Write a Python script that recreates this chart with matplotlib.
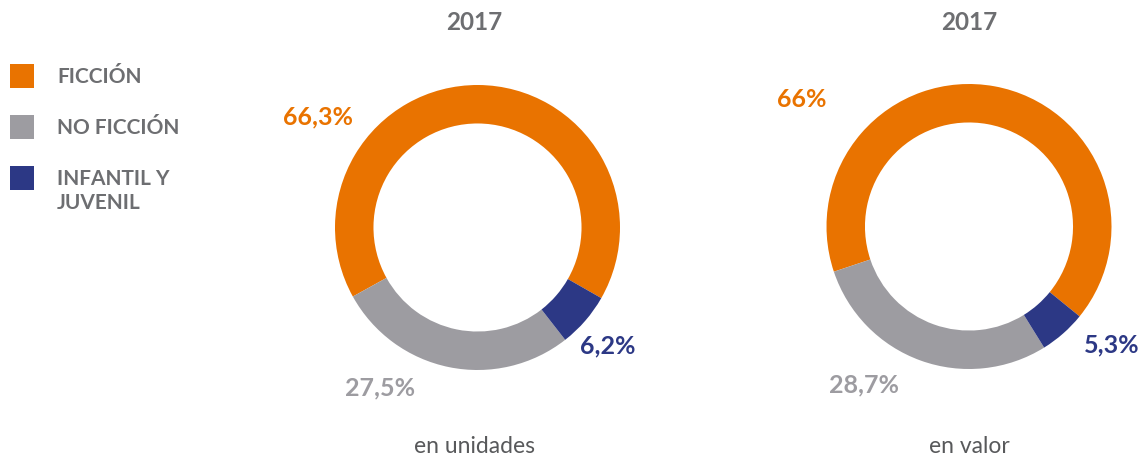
import matplotlib.pyplot as plt

# Data
categories = ['FICCIÓN', 'NO FICCIÓN', 'INFANTIL Y\nJUVENIL']
units_share = [66.3, 27.5, 6.2]
value_share = [66.0, 28.7, 5.3]
units_labels = ['66,3%', '27,5%', '6,2%']
value_labels = ['66%', '28,7%', '5,3%']
year = '2017'
subtitles = ['en unidades', 'en valor']

colors = ['#E97300', '#9D9CA1', '#2C3885']
text_gray = '#6D6E71'

W, H = 1144, 461
fig = plt.figure(figsize=(W / 100, H / 100), dpi=100)


def px(x, y):
    return x / W, 1 - y / H


def donut(cx, cy, r, shares, start):
    ax = fig.add_axes([(cx - r) / W, (H - cy - r) / H, 2 * r / W, 2 * r / H])
    # counter-clockwise: orange over the top, then gray, then navy
    ax.pie(shares, colors=colors, startangle=start, counterclock=True,
           radius=1, wedgeprops=dict(width=0.27, linewidth=0))
    ax.set_xlim(-1, 1)
    ax.set_ylim(-1, 1)
    ax.set_aspect('equal')
    ax.axis('off')
    return ax


donut(477.5, 227.5, 142.5, units_share, -29.7)
donut(969, 226.5, 142.5, value_share, -39.1)

# titles and subtitles
for x, sub in zip([474, 969], subtitles):
    fig.text(*px(x, 30), year, ha='center', va='baseline', fontsize=17.5,
             fontweight='bold', color=text_gray, family='Lato')
    fig.text(*px(x, 453), sub, ha='center', va='baseline', fontsize=16.5,
             color='#58595B', family='Lato')

# percentage labels (baseline positions)
units_pos = [(317.5, 124.5), (380, 395), (607.5, 353)]
value_pos = [(802, 107), (864, 392), (1111.5, 352)]
for labels, pos in [(units_labels, units_pos), (value_labels, value_pos)]:
    for lab, (x, y), c in zip(labels, pos, colors):
        fig.text(*px(x, y), lab, ha='center', va='baseline', fontsize=18,
                 fontweight='bold', color=c, family='Lato')

# legend
box_top = [64, 115, 166]
for cat, y, c in zip(categories, box_top, colors):
    fig.patches.append(plt.Rectangle(px(10, y + 24), 24 / W, 24 / H,
                                     transform=fig.transFigure, color=c,
                                     linewidth=0))
    for i, line in enumerate(cat.split('\n')):
        fig.text(*px(57, y + 19 + 24 * i), line, ha='left', va='baseline',
                 fontsize=15, fontweight='bold', color=text_gray,
                 family='Lato')

fig.savefig('out.png', dpi=100)
